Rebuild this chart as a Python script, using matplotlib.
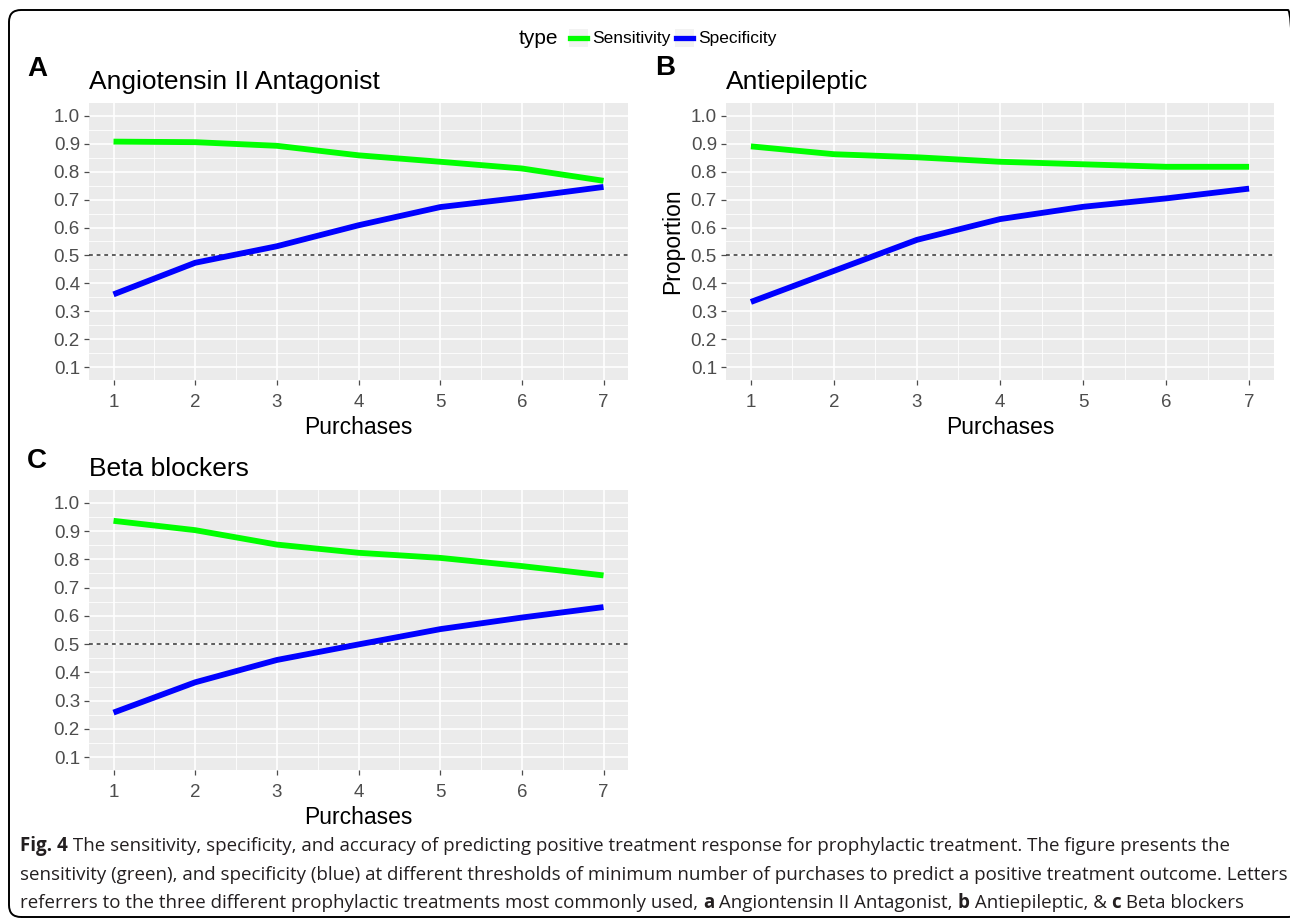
import numpy as np
import matplotlib
matplotlib.use("Agg")
from matplotlib import pyplot as plt
from matplotlib.patches import FancyBboxPatch, Rectangle
from matplotlib.lines import Line2D
from matplotlib.transforms import IdentityTransform

W, H = 1290, 921

purchases = [1, 2, 3, 4, 5, 6, 7]

# sensitivity / specificity per drug class
angio_sens = [0.907, 0.905, 0.892, 0.858, 0.835, 0.811, 0.767]
angio_spec = [0.361, 0.474, 0.533, 0.608, 0.673, 0.707, 0.745]

epi_sens = [0.890, 0.862, 0.851, 0.835, 0.826, 0.817, 0.817]
epi_spec = [0.334, 0.445, 0.556, 0.630, 0.674, 0.704, 0.739]

beta_sens = [0.936, 0.903, 0.852, 0.823, 0.805, 0.776, 0.743]
beta_spec = [0.258, 0.365, 0.444, 0.499, 0.553, 0.594, 0.631]

yticks = [0.1, 0.2, 0.3, 0.4, 0.5, 0.6, 0.7, 0.8, 0.9, 1.0]

GREEN = "#00FF00"
BLUE = "#0000FF"

plt.rcParams["font.family"] = "Liberation Sans"


def box(l, t, r, b):
    return [l / W, 1 - b / H, (r - l) / W, (b - t) / H]


def panel(ax, sens, spec, title, ylabel=None):
    ax.set_facecolor("#EBEBEB")
    for s in ax.spines.values():
        s.set_visible(False)
    ax.set_xlim(0.7, 7.3)
    ax.set_ylim(0.055, 1.045)
    ax.set_xticks(purchases)
    ax.set_xticks(np.arange(1.5, 7, 1.0), minor=True)
    ax.set_yticks(yticks)
    ax.set_yticks(np.arange(0.15, 1.0, 0.1), minor=True)
    ax.set_yticklabels([f"{v:.1f}" for v in yticks])
    ax.grid(which="major", color="white", lw=1.2)
    ax.grid(which="minor", color="white", lw=0.6)
    ax.set_axisbelow(True)
    ax.tick_params(which="major", length=3.5, width=0.9, color="#4D4D4D",
                   labelcolor="#4D4D4D", labelsize=13.5)
    ax.tick_params(axis="x", pad=6.5)
    ax.tick_params(axis="y", pad=3)
    ax.tick_params(which="minor", length=0)
    ax.axhline(0.5, color="#333333", lw=1.1, ls=(0, (2.5, 2.5)))
    ax.plot(purchases, sens, color=GREEN, lw=4.2, solid_capstyle="butt")
    ax.plot(purchases, spec, color=BLUE, lw=4.2, solid_capstyle="butt")
    ax.set_xlabel("Purchases", fontsize=16.5, labelpad=4)
    if ylabel:
        ax.set_ylabel(ylabel, fontsize=16.5, labelpad=5)
    ax.set_title(title, fontsize=19, loc="left", pad=10)


fig = plt.figure(figsize=(W / 100, H / 100), dpi=100)

axA = fig.add_axes(box(89, 103, 628, 380))
axB = fig.add_axes(box(726, 103, 1274, 380))
axC = fig.add_axes(box(89, 490, 628, 770))

panel(axA, angio_sens, angio_spec, "Angiotensin II Antagonist")
panel(axB, epi_sens, epi_spec, "Antiepileptic", ylabel="Proportion")
panel(axC, beta_sens, beta_spec, "Beta blockers")

# panel letters
for lx, ly, s in [(27, 69, "A"), (655, 68, "B"), (27, 461, "C")]:
    fig.text(lx / W, 1 - ly / H, s, fontsize=20, fontweight="bold",
             va="center", ha="left")

# legend strip across the top
ly = 1 - 38 / H
fig.text(519 / W, ly, "type", fontsize=15, va="center", ha="left")
for kx, col, lab in [(569, GREEN, "Sensitivity"), (675, BLUE, "Specificity")]:
    fig.patches.append(Rectangle((kx / W, ly - 9 / H), 19 / W, 18 / H,
                                 transform=fig.transFigure, color="#F2F2F2",
                                 lw=0))
    fig.lines.append(Line2D([(kx + 1) / W, (kx + 18) / W], [ly, ly],
                            transform=fig.transFigure, color=col, lw=3.8))
    fig.text((kx + 23) / W, ly, lab, fontsize=12.5, va="center", ha="left")

# outer rounded frame, right side runs off the page
frame = FancyBboxPatch((9, H - 917), 1300 - 9, 917 - 10,
                       boxstyle="round,pad=0,rounding_size=12",
                       transform=IdentityTransform(), fill=False, ec="black",
                       lw=1.4, clip_on=False)
fig.patches.append(frame)

# caption, with bold pieces laid out one after another
caption = [
    [("Fig. 4", True), (" The sensitivity, specificity, and accuracy of predicting positive treatment response for prophylactic treatment. The figure presents the", False)],
    [("sensitivity (green), and specificity (blue) at different thresholds of minimum number of purchases to predict a positive treatment outcome. Letters", False)],
    [("referrers to the three different prophylactic treatments most commonly used, ", False), ("a", True),
     (" Angiontensin II Antagonist, ", False), ("b", True), (" Antiepileptic, & ", False), ("c", True),
     (" Beta blockers", False)],
]
renderer = fig.canvas.get_renderer()
for row, cy in zip(caption, [846, 875, 903]):
    x = 20
    for txt, bold in row:
        t = fig.text(x / W, 1 - cy / H, txt, fontsize=13.5, family="Open Sans",
                     fontweight="bold" if bold else "normal", color="#231F20",
                     va="center", ha="left")
        x += t.get_window_extent(renderer).width

fig.savefig("out.png", dpi=100)
